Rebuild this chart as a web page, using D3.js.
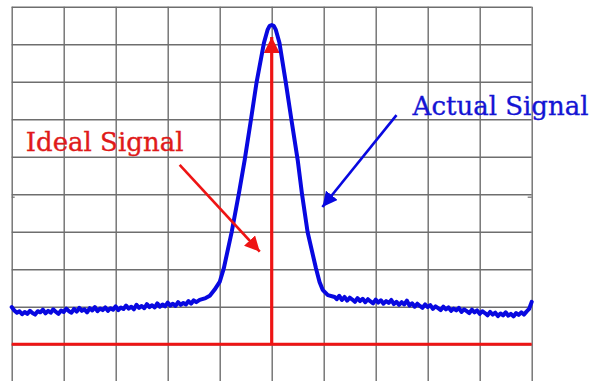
<!DOCTYPE html>
<html>
<head>
<meta charset="utf-8">
<script src="https://cdn.jsdelivr.net/npm/d3@7"></script>
<style>
  html, body { margin: 0; padding: 0; background: #fff; }
  svg { display: block; }
  .grid line { stroke: #6e6e6e; stroke-width: 1.4; }
  .grid .domain { display: none; }
</style>
</head>
<body>
<div id="chart"></div>
<script>
// grid divisions (10 x 10)
const gridX = [0, 1, 2, 3, 4, 5, 6, 7, 8, 9, 10];
const gridY = [0, 1, 2, 3, 4, 5, 6, 7, 8, 9, 10];

// measured signal (divisions), left floor / peak / right floor
const actualX = [
  0.00, 0.05, 0.10, 0.15, 0.20, 0.25, 0.30, 0.35, 0.40, 0.45,
  0.50, 0.55, 0.60, 0.65, 0.70, 0.75, 0.80, 0.85, 0.90, 0.95,
  1.00, 1.05, 1.10, 1.15, 1.20, 1.25, 1.30, 1.35, 1.40, 1.45,
  1.50, 1.55, 1.60, 1.65, 1.70, 1.75, 1.80, 1.85, 1.90, 1.95,
  2.00, 2.05, 2.10, 2.15, 2.20, 2.25, 2.30, 2.35, 2.40, 2.45,
  2.50, 2.55, 2.60, 2.65, 2.70, 2.75, 2.80, 2.85, 2.90, 2.95,
  3.00, 3.05, 3.10, 3.15, 3.20, 3.25, 3.30, 3.35, 3.40, 3.45,
  3.50, 3.55,
  3.615, 3.73, 3.81, 3.90, 4.00, 4.08, 4.23, 4.37, 4.48, 4.60,
  4.71, 4.85, 4.92, 4.96, 5.00, 5.04, 5.08, 5.15, 5.27, 5.38,
  5.50, 5.58, 5.69, 5.85, 5.92, 5.98, 6.08, 6.21,
  6.25, 6.30, 6.35, 6.40, 6.45, 6.50, 6.55, 6.60, 6.65, 6.70,
  6.75, 6.80, 6.85, 6.90, 6.95, 7.00, 7.05, 7.10, 7.15, 7.20,
  7.25, 7.30, 7.35, 7.40, 7.45, 7.50, 7.55, 7.60, 7.65, 7.70,
  7.75, 7.80, 7.85, 7.90, 7.95, 8.00, 8.05, 8.10, 8.15, 8.20,
  8.25, 8.30, 8.35, 8.40, 8.45, 8.50, 8.55, 8.60, 8.65, 8.70,
  8.75, 8.80, 8.85, 8.90, 8.95, 9.00, 9.05, 9.10, 9.15, 9.20,
  9.25, 9.30, 9.35, 9.40, 9.45, 9.50, 9.55, 9.60, 9.65, 9.70,
  9.75, 9.80, 9.85, 9.90, 9.95, 10.00
];
const actualY = [
  1.99, 1.90, 1.84, 1.88, 1.80, 1.86, 1.81, 1.89, 1.83, 1.79,
  1.88, 1.85, 1.92, 1.82, 1.89, 1.84, 1.93, 1.86, 1.81, 1.90,
  1.86, 1.95, 1.88, 1.84, 1.94, 1.87, 1.97, 1.89, 1.93, 1.85,
  1.96, 1.90, 1.99, 1.88, 1.95, 1.91, 1.98, 1.89, 1.96, 1.92,
  2.01, 1.91, 1.98, 1.94, 2.03, 1.95, 2.00, 1.93, 2.05, 1.97,
  2.02, 1.96, 2.07, 1.99, 2.04, 1.98, 2.09, 2.00, 2.06, 2.01,
  2.11, 2.03, 2.08, 2.02, 2.12, 2.05, 2.10, 2.06, 2.15, 2.08,
  2.17, 2.12,
  2.18, 2.23, 2.29, 2.45, 2.66, 3.03, 3.99, 5.03, 5.91, 6.98,
  7.99, 9.03, 9.38, 9.49, 9.51, 9.49, 9.38, 9.03, 7.99, 6.98,
  5.91, 5.03, 3.99, 3.03, 2.66, 2.45, 2.31, 2.26,
  2.20, 2.29, 2.18, 2.26, 2.16, 2.24, 2.19, 2.13, 2.23, 2.15,
  2.21, 2.12, 2.20, 2.14, 2.09, 2.19, 2.11, 2.17, 2.08, 2.15,
  2.10, 2.18, 2.07, 2.13, 2.05, 2.12, 2.06, 2.16, 2.03, 2.09,
  2.00, 2.08, 2.02, 1.97, 2.06, 1.99, 2.04, 1.94, 2.01, 1.96,
  1.91, 2.00, 1.93, 1.98, 1.89, 1.95, 1.90, 1.97, 1.86, 1.93,
  1.88, 1.83, 1.92, 1.85, 1.90, 1.81, 1.88, 1.83, 1.77, 1.86,
  1.79, 1.84, 1.75, 1.82, 1.77, 1.85, 1.76, 1.81, 1.74, 1.83,
  1.78, 1.85, 1.79, 1.87, 1.94, 2.13
];

// ideal signal: flat floor and one impulse
const idealFloor = 1.0;
const idealImpulseX = 5.0;
const idealImpulseTop = 9.19;

// annotations [x1, y1, x2, y2] in divisions
const idealArrow = [3.23, 5.78, 4.77, 3.47];
const actualArrow = [7.40, 7.11, 5.975, 4.66];
const idealLabel = [0.27, 6.16, "Ideal Signal"];
const actualLabel = [7.71, 7.11, "Actual Signal"];

const W = 594, H = 381;
const margin = { left: 11.7, top: 6.7 };
const width = 520, height = 375;

const red = "#ee1414";
const blue = "#0808e0";

const svg = d3.select("#chart").append("svg")
  .attr("width", W).attr("height", H);

const defs = svg.append("defs");
function marker(id, color, size) {
  defs.append("marker")
    .attr("id", id)
    .attr("viewBox", "0 0 10 10")
    .attr("refX", 10).attr("refY", 5)
    .attr("markerUnits", "userSpaceOnUse")
    .attr("markerWidth", size).attr("markerHeight", size)
    .attr("orient", "auto")
    .append("path")
    .attr("d", "M0,0 L10,5 L0,10 Z")
    .attr("fill", color);
}
marker("ah-red", red, 15);
marker("ah-blue", blue, 15);
marker("ah-red-big", red, 16);

const g = svg.append("g").attr("transform", `translate(${margin.left},${margin.top})`);

const x = d3.scaleLinear().domain([0, 10]).range([0, width]);
const y = d3.scaleLinear().domain([0, 10]).range([height, 0]);

// grid
g.append("g").attr("class", "grid")
  .attr("transform", `translate(0,${height})`)
  .call(d3.axisBottom(x).tickValues(gridX).tickSize(height).tickSizeOuter(0).tickFormat(""))
  .selectAll("line").attr("y2", -height);
g.append("g").attr("class", "grid")
  .call(d3.axisLeft(y).tickValues(gridY).tickSize(-width).tickSizeOuter(0).tickFormat(""));

// small centre ticks on the frame
const tickCol = "#6e6e6e";
g.append("line").attr("x1", x(0)).attr("x2", x(0) + 3)
  .attr("y1", y(4.92)).attr("y2", y(4.92)).attr("stroke", tickCol).attr("stroke-width", 1.2);
g.append("line").attr("x1", x(10) - 4).attr("x2", x(10))
  .attr("y1", y(4.92)).attr("y2", y(4.92)).attr("stroke", tickCol).attr("stroke-width", 1.2);

// ideal signal
g.append("line")
  .attr("x1", x(0)).attr("x2", x(10))
  .attr("y1", y(idealFloor)).attr("y2", y(idealFloor))
  .attr("stroke", red).attr("stroke-width", 3);
g.append("line")
  .attr("x1", x(idealImpulseX)).attr("x2", x(idealImpulseX))
  .attr("y1", y(idealFloor)).attr("y2", y(idealImpulseTop))
  .attr("stroke", red).attr("stroke-width", 3.2)
  .attr("marker-end", "url(#ah-red-big)");

// actual signal
const pts = actualX.map((v, i) => [v, actualY[i]]);
const line = d3.line().x(d => x(d[0])).y(d => y(d[1]));
g.append("path")
  .datum(pts)
  .attr("d", line)
  .attr("fill", "none")
  .attr("stroke", blue)
  .attr("stroke-width", 4)
  .attr("stroke-linejoin", "round")
  .attr("stroke-linecap", "round");

// annotations
function arrow(a, color, id) {
  g.append("line")
    .attr("x1", x(a[0])).attr("y1", y(a[1]))
    .attr("x2", x(a[2])).attr("y2", y(a[3]))
    .attr("stroke", color).attr("stroke-width", 2.6)
    .attr("marker-end", `url(#${id})`);
}
arrow(idealArrow, red, "ah-red");
arrow(actualArrow, blue, "ah-blue");

function label(l, color) {
  g.append("text")
    .attr("x", x(l[0])).attr("y", y(l[1]))
    .attr("font-family", "'DejaVu Serif', serif")
    .attr("font-size", 26)
    .attr("fill", color)
    .attr("stroke", color)
    .attr("stroke-width", 0.35)
    .text(l[2]);
}
label(idealLabel, "#e01a1a");
label(actualLabel, "#1414d4");
</script>
</body>
</html>
